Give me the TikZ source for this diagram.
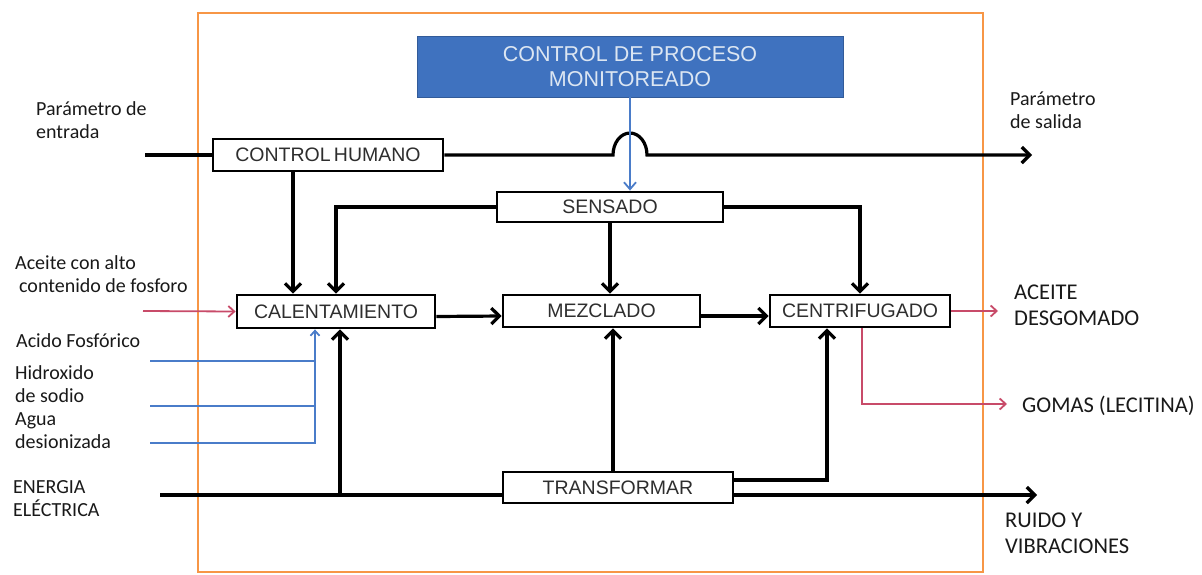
\documentclass[tikz,border=0pt]{standalone}
\usepackage{fontspec}
\setmainfont{Liberation Sans}
\newfontfamily\calib{Carlito}
\usetikzlibrary{arrows.meta,calc}
\definecolor{frameor}{HTML}{F79646}
\definecolor{boxblue}{HTML}{3F72BF}
\definecolor{lineblue}{HTML}{4A7CC9}
\definecolor{linered}{HTML}{C84B69}
\definecolor{boxtext}{HTML}{2E2E2E}
\definecolor{bluetext}{HTML}{DCE6F2}
\tikzset{
  procbox/.style={draw=black, line width=2.8pt, fill=white, text=boxtext,
    font=\fontsize{19.5}{22}\selectfont, inner sep=0pt},
  flow/.style={line width=3.2pt, -{Straight Barb[length=8pt,width=16pt]}},
  plainflow/.style={line width=3.2pt},
  blueflow/.style={draw=lineblue, line width=1.8pt},
  redflow/.style={draw=linered, line width=1.8pt, -{Straight Barb[length=6pt,width=11pt]}},
  lbl/.style={font=\calib\fontsize{20}{22.5}\selectfont, text=black!90, inner sep=0pt, anchor=base west, align=left},
  rlbl/.style={lbl, font=\calib\fontsize{22.5}{25.5}\selectfont},
}
\begin{document}
\begin{tikzpicture}[x=1pt,y=-1pt]
\useasboundingbox (0,0) rectangle (1202,574);
% frame
\node[draw=frameor, line width=2pt, minimum width=785pt, minimum height=559pt, inner sep=0pt] (frame) at (590.5,292.5) {};
% boxes
\node[draw=boxblue!80!black, line width=0.8pt, fill=boxblue, text=bluetext, font=\fontsize{21.5}{25}\selectfont, align=center,
  minimum width=426pt, minimum height=61pt, inner sep=0pt] (cpm) at (630,66.5) {CONTROL DE PROCESO\\MONITOREADO};
\node[procbox, minimum width=230pt, minimum height=32pt] (ch) at (328,155) {CONTROL\,HUMANO};
\node[procbox, minimum width=226pt, minimum height=30pt] (sen) at (610,207) {SENSADO};
\node[procbox, minimum width=198pt, minimum height=33pt] (cal) at (336,311.5) {CALENTAMIENTO};
\node[procbox, minimum width=197pt, minimum height=32pt] (mez) at (601.5,311) {MEZCLADO};
\node[procbox, minimum width=180pt, minimum height=32pt] (cen) at (860,311) {CENTRIFUGADO};
\node[procbox, minimum width=230pt, minimum height=31pt] (tra) at (618,487.5) {TRANSFORMAR};
% free ends
\coordinate (pin) at (145,155);
\coordinate (pout) at (1032,155);
\coordinate (hump) at (613,155);
\coordinate (ein) at (160,495);
\coordinate (eout) at (1037,495);
\coordinate (j1) at (340,495);
\coordinate (ain) at (143,311);
\coordinate (aout) at (998,311);
\coordinate (gout) at (1007,404);
\coordinate (b1) at (150,361);
\coordinate (b2) at (150,406);
\coordinate (b3) at (150,443);
\coordinate (bv) at (315,443);
% top line with hump
\draw[plainflow] (pin) -- (ch.west);
\draw[flow] (ch.east) -- (hump) arc[start angle=180, end angle=360, x radius=17, y radius=22] -- (pout);
% blue control arrow
\draw[blueflow, -{Straight Barb[length=7pt,width=12pt]}] (cpm.south) -- (cpm.south |- sen.north);
% control humano down
\draw[flow] ([xshift=-35pt]ch.south) -- ([xshift=-35pt]ch.south |- cal.north);
% sensado
\draw[flow] (sen.west) -| (cal.north);
\draw[flow] (sen.south) -- (sen.south |- mez.north);
\draw[flow] (sen.east) -| (cen.north);
% main flow
\draw[flow] ([yshift=-5pt]cal.east) -- ([yshift=-5pt]mez.west);
\draw[flow] ([yshift=-5pt]mez.east) -- ([yshift=-5pt]cen.west);
% energy line
\draw[plainflow] (ein) -- ([yshift=-7.5pt]tra.west);
\draw[flow] ([yshift=-7.5pt]tra.east) -- (eout);
\draw[flow] (j1) -- (j1 |- cal.south);
\draw[flow] ([xshift=-5pt]tra.north) -- ([xshift=-5pt]tra.north |- mez.south);
\draw[flow] ([yshift=7.5pt]tra.east) -| ([xshift=-33pt]cen.south);
% red flows
\draw[redflow] (ain) -- (cal.west);
\draw[redflow] (cen.east) -- (aout);
\draw[redflow] ([xshift=2pt]cen.south) |- (gout);
% blue inputs
\draw[blueflow] (b1) -- (b1 -| bv);
\draw[blueflow] (b2) -- (b2 -| bv);
\draw[blueflow, -{Straight Barb[length=5pt,width=9pt]}] (b3) -- (bv) -- (bv |- cal.south);
% labels (base anchor = baseline of last line)
\node[lbl] (lpin) at (36,138) {Parámetro de\\entrada};
\node[lbl] (lpout) at (1010,128) {Parámetro\\de salida};
\node[lbl] (lain) at (15,292) {Aceite con alto\\\hspace*{4pt}contenido de fosforo};
\node[lbl] (lac) at (16,347) {Acido Fosfórico};
\node[lbl] (lhid) at (15,402) {Hidroxido\\de sodio};
\node[lbl] (lagua) at (15,448) {Agua\\desionizada};
\node[lbl] (lene) at (13,516) {ENERGIA\\ELÉCTRICA};
\node[rlbl] (lad) at (1014,325) {ACEITE\\DESGOMADO};
\node[rlbl] (lgom) at (1022,412) {GOMAS (LECITINA)};
\node[rlbl] (lrui) at (1005,553) {RUIDO Y\\VIBRACIONES};
\end{tikzpicture}
\end{document}
